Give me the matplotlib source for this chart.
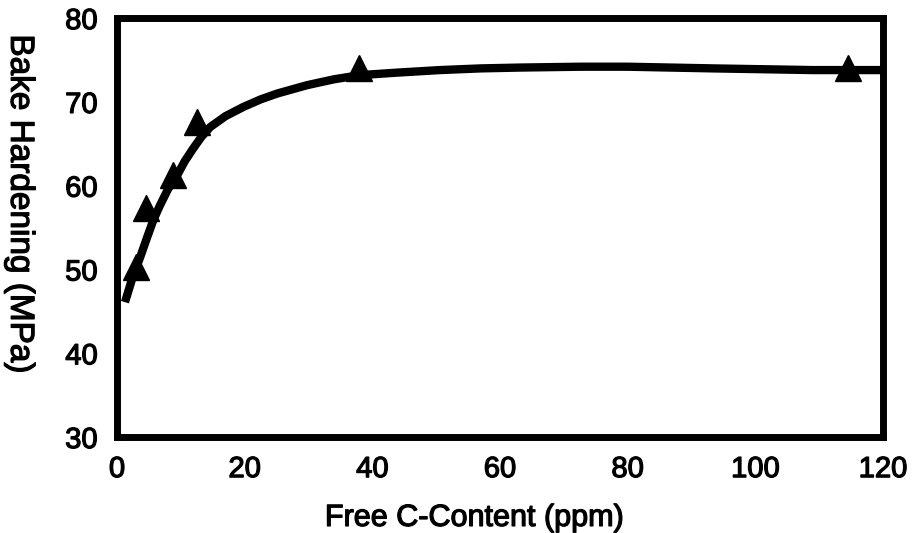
import matplotlib
matplotlib.use("Agg")
import matplotlib.pyplot as plt
import matplotlib.patheffects as pe

# Measured bake hardening vs. free carbon content
free_c = [3.0, 4.6, 8.8, 12.5, 37.9, 114.6]
bake_hardening = [50.3, 57.3, 61.3, 67.6, 74.0, 74.0]

# Fitted trend curve
fit_c = [1.25, 2.5, 3.6, 4.8, 5.7, 6.7, 8.0, 9.4, 10.6, 11.9, 13.2, 14.6, 17.0,
         19.8, 22.5, 25.1, 29.8, 34.0, 38.1, 44.0, 50.6, 57.0, 63.2, 72.6, 80.0,
         93.4, 109.0, 120.0]
fit_bh = [46.1, 49.2, 51.4, 54.0, 55.9, 57.6, 59.6, 61.2, 62.9, 64.4, 65.8, 67.0, 68.3,
          69.4, 70.3, 71.0, 72.0, 72.7, 73.2, 73.5, 73.8, 74.0, 74.1, 74.2, 74.2,
          74.0, 73.8, 73.8]

x_ticks = [0, 20, 40, 60, 80, 100, 120]
y_ticks = [30, 40, 50, 60, 70, 80]

plt.rcParams['font.family'] = ['Liberation Sans', 'DejaVu Sans']
heavy = [pe.withStroke(linewidth=0.9, foreground='black')]

fig = plt.figure(figsize=(9.14, 5.33), dpi=100)
ax = fig.add_axes([0.128, 0.180, 0.838, 0.786])

ax.plot(fit_c, fit_bh, color='black', lw=6.0, solid_capstyle='butt',
        solid_joinstyle='round', zorder=2)
ax.plot(free_c, bake_hardening, linestyle='none', marker='^', ms=19,
        color='black', zorder=3)

ax.set_xlim(0, 120)
ax.set_ylim(30, 80)
ax.set_xticks(x_ticks)
ax.set_yticks(y_ticks)
ax.tick_params(length=0, labelsize=21)
ax.tick_params(axis='x', pad=13)
ax.tick_params(axis='y', pad=14)
for lbl in ax.get_xticklabels() + ax.get_yticklabels():
    lbl.set_path_effects(heavy)

for s in ax.spines.values():
    s.set_linewidth(5)
    s.set_color('black')

ax.set_xlabel('Free C-Content (ppm)', fontsize=22, va='center', path_effects=heavy)
ax.set_ylabel('Bake Hardening (MPa)', fontsize=24, rotation=-90,
              ha='center', va='center', path_effects=heavy)
ax.xaxis.set_label_coords(0.466, -0.193)
ax.yaxis.set_label_coords(-0.127, 0.556)

fig.savefig('out.png', dpi=100)
